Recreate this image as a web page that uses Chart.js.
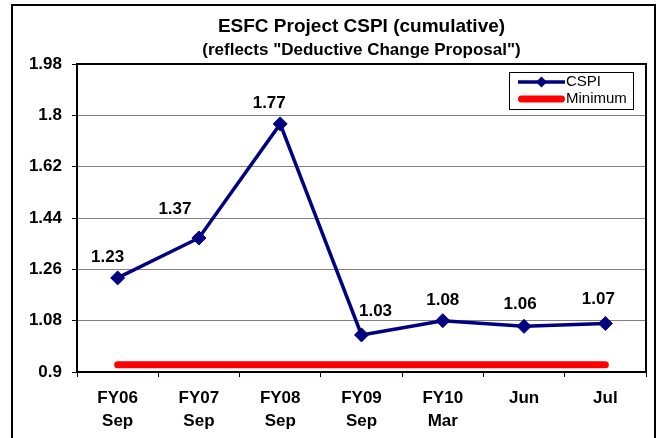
<!DOCTYPE html>
<html>
<head>
<meta charset="utf-8">
<script src="https://cdn.jsdelivr.net/npm/chart.js@4.4.0/dist/chart.umd.min.js"></script>
<style>
  html, body { margin: 0; padding: 0; background: #fff; overflow: hidden; }
  canvas { display: block; }
</style>
</head>
<body>
<canvas id="cspiChart" width="659" height="438"></canvas>
<script>
// Chart data
const categories = [['FY06', 'Sep'], ['FY07', 'Sep'], ['FY08', 'Sep'], ['FY09', 'Sep'], ['FY10', 'Mar'], ['Jun'], ['Jul']];
const cspiValues = [1.23, 1.37, 1.77, 1.03, 1.08, 1.06, 1.07];
const minimumValues = [0.925, 0.925, 0.925, 0.925, 0.925, 0.925, 0.925];
const yTickValues = [0.9, 1.08, 1.26, 1.44, 1.62, 1.8, 1.98];
const yTickLabels = ['0.9', '1.08', '1.26', '1.44', '1.62', '1.8', '1.98'];
const seriesNames = ['CSPI', 'Minimum'];
const titleText = 'ESFC Project CSPI (cumulative)';
const subtitleText = '(reflects "Deductive Change Proposal")';

const FONT = '"Liberation Sans", Arial, Helvetica, sans-serif';
const NAVY = '#000080';
const RED = '#FF0000';

// Hand-placed value label offsets (px from each marker centre)
const labelShiftX = [-10, -24, -11, 14, 0, -4, -7];
const labelShiftY = [-21, -29, -21, -24, -20, -22, -24];

// White page, outer chart border
const backdrop = {
  id: 'backdrop',
  beforeDraw(chart) {
    const c = chart.ctx;
    c.save();
    c.fillStyle = '#fff';
    c.fillRect(0, 0, chart.width, chart.height);
    c.strokeStyle = '#000';
    c.lineWidth = 2;
    c.strokeRect(12, 5, 643, 500);
    c.restore();
  }
};

// Top and right edges of the plot frame
const plotFrame = {
  id: 'plotFrame',
  beforeDatasetsDraw(chart) {
    const a = chart.chartArea;
    const c = chart.ctx;
    c.save();
    c.strokeStyle = '#000';
    c.lineWidth = 2;
    c.beginPath();
    c.moveTo(a.left, a.top);
    c.lineTo(a.right, a.top);
    c.lineTo(a.right, a.bottom);
    c.stroke();
    c.restore();
  }
};

// Value labels above the CSPI markers
const valueLabels = {
  id: 'valueLabels',
  afterDatasetsDraw(chart) {
    const meta = chart.getDatasetMeta(0);
    const vals = chart.data.datasets[0].data;
    const c = chart.ctx;
    c.save();
    c.font = 'bold 17px ' + FONT;
    c.fillStyle = '#000';
    c.textAlign = 'center';
    c.textBaseline = 'middle';
    meta.data.forEach((pt, i) => {
      c.fillText(vals[i].toFixed(2), pt.x + labelShiftX[i], pt.y + labelShiftY[i]);
    });
    c.restore();
  }
};

// Boxed legend inside the plot, top right
const boxLegend = {
  id: 'boxLegend',
  afterDraw(chart) {
    const c = chart.ctx;
    const ds = chart.data.datasets;
    const bx = 509.5, by = 72.5, bw = 124, bh = 37;
    c.save();
    c.fillStyle = '#fff';
    c.fillRect(bx, by, bw, bh);
    c.strokeStyle = '#000';
    c.lineWidth = 1;
    c.strokeRect(bx, by, bw, bh);

    const x0 = 518, x1 = 565;
    const rows = [82, 99];
    // CSPI sample: line with diamond
    c.strokeStyle = ds[0].borderColor;
    c.lineWidth = 3.5;
    c.beginPath();
    c.moveTo(x0, rows[0]);
    c.lineTo(x1, rows[0]);
    c.stroke();
    c.fillStyle = ds[0].borderColor;
    const cx = (x0 + x1) / 2, r = 5.5;
    c.beginPath();
    c.moveTo(cx - r, rows[0]);
    c.lineTo(cx, rows[0] - r);
    c.lineTo(cx + r, rows[0]);
    c.lineTo(cx, rows[0] + r);
    c.closePath();
    c.fill();
    // Minimum sample: thick rounded line
    c.strokeStyle = ds[1].borderColor;
    c.lineWidth = 7;
    c.lineCap = 'round';
    c.beginPath();
    c.moveTo(x0 + 3.5, rows[1]);
    c.lineTo(x1 - 3.5, rows[1]);
    c.stroke();

    c.fillStyle = '#000';
    c.font = '15px ' + FONT;
    c.textAlign = 'left';
    c.textBaseline = 'middle';
    c.fillText(ds[0].label, x1 + 1, rows[0]);
    c.fillText(ds[1].label, x1 + 1, rows[1]);
    c.restore();
  }
};

new Chart(document.getElementById('cspiChart'), {
  type: 'line',
  data: {
    labels: categories,
    datasets: [
      {
        label: seriesNames[0],
        data: cspiValues,
        borderColor: NAVY,
        backgroundColor: NAVY,
        borderWidth: 3.5,
        pointStyle: 'rectRot',
        pointRadius: 7,
        pointHoverRadius: 7,
        pointBorderWidth: 1,
        pointBackgroundColor: NAVY,
        pointBorderColor: NAVY,
        tension: 0,
        order: 0
      },
      {
        label: seriesNames[1],
        data: minimumValues,
        borderColor: RED,
        backgroundColor: RED,
        borderWidth: 7,
        borderCapStyle: 'round',
        pointRadius: 0,
        pointHoverRadius: 0,
        tension: 0,
        order: 1
      }
    ]
  },
  options: {
    responsive: false,
    animation: false,
    devicePixelRatio: 1,
    events: [],
    layout: { padding: { top: 0, left: 0, right: 13, bottom: 0 } },
    plugins: {
      legend: { display: false },
      tooltip: { enabled: false },
      title: {
        display: true,
        text: titleText,
        fullSize: false,
        color: '#000',
        font: { family: FONT, size: 19, weight: 'bold', lineHeight: 1.2 },
        padding: { top: 15.1, bottom: 0 }
      },
      subtitle: {
        display: true,
        text: subtitleText,
        fullSize: false,
        color: '#000',
        font: { family: FONT, size: 17, weight: 'bold', lineHeight: 1.2 },
        padding: { top: 2.4, bottom: 3.3 }
      }
    },
    scales: {
      x: {
        offset: true,
        grid: {
          offset: true,
          drawOnChartArea: false,
          drawTicks: true,
          tickLength: 5,
          tickColor: '#000',
          tickWidth: 1
        },
        border: { color: '#000', width: 2 },
        ticks: {
          color: '#000',
          padding: 9.5,
          maxRotation: 0,
          autoSkip: false,
          font: { family: FONT, size: 17, weight: 'bold', lineHeight: 1.353 }
        },
        afterFit(scale) { scale.height = 66; }
      },
      y: {
        min: 0.9,
        max: 1.98,
        afterBuildTicks(scale) {
          scale.ticks = yTickValues.map(v => ({ value: v }));
        },
        ticks: {
          color: '#000',
          padding: 10,
          callback: (value) => yTickLabels[yTickValues.indexOf(value)],
          font: { family: FONT, size: 17, weight: 'bold' }
        },
        grid: {
          color: '#808080',
          lineWidth: 1,
          tickLength: 5,
          tickColor: '#000'
        },
        border: { color: '#000', width: 2 },
        afterFit(scale) { scale.width = 77; }
      }
    }
  },
  plugins: [backdrop, plotFrame, valueLabels, boxLegend]
});
</script>
</body>
</html>
